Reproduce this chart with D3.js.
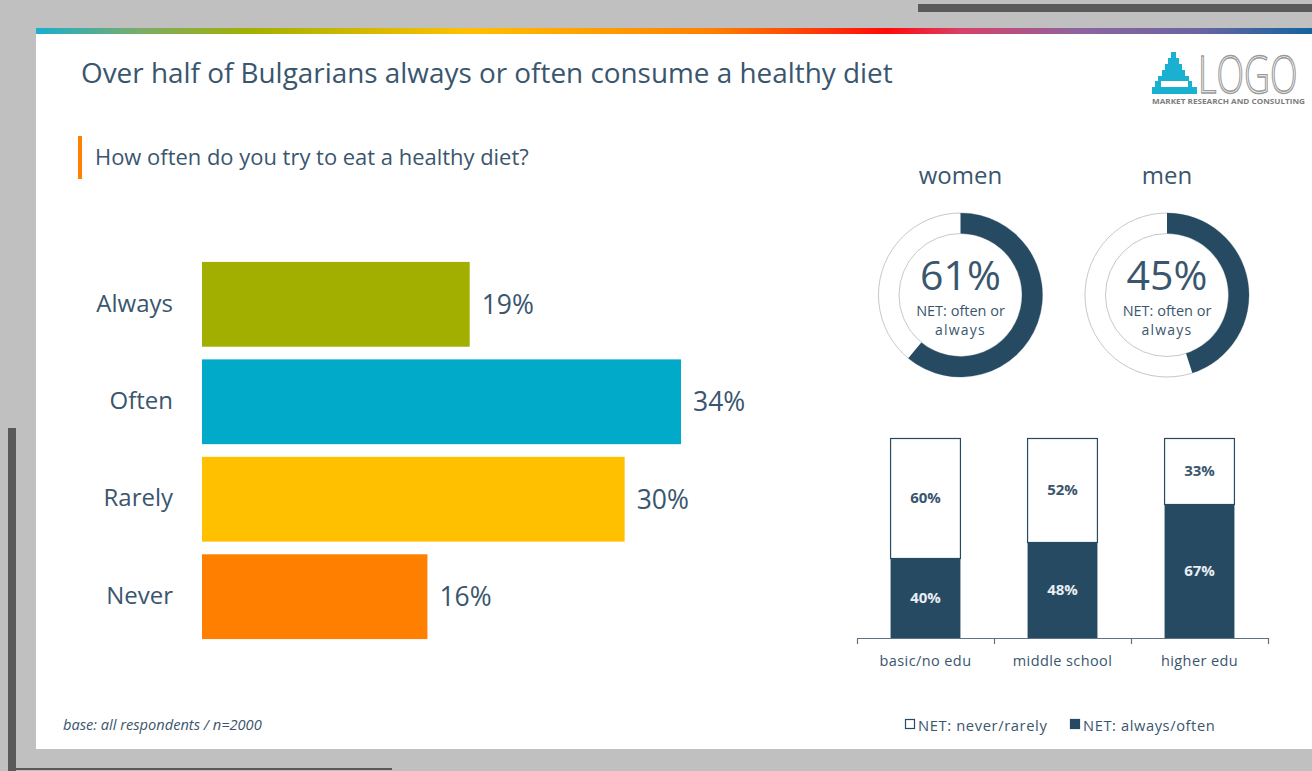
<!DOCTYPE html>
<html>
<head>
<meta charset="utf-8">
<script src="https://cdn.jsdelivr.net/npm/d3@7"></script>
<style>
  html, body { margin: 0; padding: 0; background: #c0c0c0; }
  svg { display: block; }
  text { font-family: "Open Sans", "Noto Sans", sans-serif; }
</style>
</head>
<body>
<svg id="chart" width="1312" height="771"></svg>
<script>
// Survey answers: how often respondents try to eat a healthy diet
const categories = ["Always", "Often", "Rarely", "Never"];
const shares = [19, 34, 30, 16];
const barColors = ["#a2ae00", "#00aac8", "#ffc000", "#ff8000"];

// NET always/often by gender
const genders = ["women", "men"];
const genderNet = [61, 45];

// NET split by education
const eduGroups = ["basic/no edu", "middle school", "higher edu"];
const eduNeverRarely = [60, 52, 33];
const eduAlwaysOften = [40, 48, 67];
const legendLabels = ["NET: never/rarely", "NET: always/often"];

const ink = "#3a566e";
const navy = "#274a63";

const svg = d3.select("#chart");

// shrink/stretch a text node's font size so it spans a given width
function fitWidth(sel, width) {
  const node = sel.node();
  const fs = parseFloat(sel.attr("font-size"));
  const w = node.getComputedTextLength();
  sel.attr("font-size", (fs * width / w).toFixed(2));
  return sel;
}

// ---------- slide frame ----------
svg.append("rect").attr("x", 918).attr("y", 4).attr("width", 394).attr("height", 8).attr("fill", "#5a5a5a");
svg.append("rect").attr("x", 8).attr("y", 428).attr("width", 8).attr("height", 343).attr("fill", "#5a5a5a");
svg.append("rect").attr("x", 16).attr("y", 768).attr("width", 376).attr("height", 2).attr("fill", "#5a5a5a");
svg.append("rect").attr("x", 36).attr("y", 28).attr("width", 1276).attr("height", 721).attr("fill", "#ffffff");

const grad = svg.append("defs").append("linearGradient").attr("id", "topband")
  .attr("x1", "0%").attr("x2", "100%").attr("y1", "0%").attr("y2", "0%");
[[0, "#1aaecf"], [0.08, "#7aac6a"], [0.168, "#a2b000"], [0.339, "#ffc000"], [0.529, "#ff8000"],
 [0.667, "#ff0a0a"], [0.726, "#d8406a"], [0.818, "#8c64a0"], [0.912, "#6a64a0"], [1, "#1064a0"]]
  .forEach(([o, c]) => grad.append("stop").attr("offset", o).attr("stop-color", c));
svg.append("rect").attr("x", 36).attr("y", 28).attr("width", 1276).attr("height", 6).attr("fill", "url(#topband)");

// ---------- titles ----------
fitWidth(svg.append("text").attr("x", 81).attr("y", 83).attr("font-size", 26).attr("fill", ink)
  .text("Over half of Bulgarians always or often consume a healthy diet"), 812);

svg.append("rect").attr("x", 78).attr("y", 136).attr("width", 4).attr("height", 43).attr("fill", "#ff8000");
fitWidth(svg.append("text").attr("x", 95).attr("y", 165).attr("font-size", 19).attr("fill", ink)
  .text("How often do you try to eat a healthy diet?"), 434);

// ---------- logo ----------
const logo = svg.append("g");
const cyan = "#1ab0d0";
[[1171, 52, 5], [1168, 58, 11], [1165, 64, 17], [1162, 70, 23], [1158, 76, 31], [1155, 81, 37], [1152, 87, 45]]
  .forEach(([x, y, w]) => logo.append("rect").attr("x", x).attr("y", y).attr("width", w).attr("height", 7).attr("fill", cyan));
logo.append("rect").attr("x", 1161).attr("y", 81).attr("width", 27).attr("height", 6).attr("fill", "#fff");
// tall, narrow wordmark: small font stretched vertically
logo.append("text").attr("transform", "translate(1198,93) scale(1,1.45)")
  .attr("font-size", 36).attr("font-weight", 300)
  .attr("fill", "none").attr("stroke", "#9a9a9a").attr("stroke-width", 1).text("LOGO");
logo.append("text").attr("x", 1152).attr("y", 104).attr("font-size", 7).attr("font-weight", 700)
  .attr("textLength", 153).attr("lengthAdjust", "spacingAndGlyphs").attr("fill", "#7d7d7d")
  .text("MARKET RESEARCH AND CONSULTING");

// ---------- horizontal bars ----------
const x = d3.scaleLinear().domain([0, 34]).range([202, 681]);
const y = d3.scaleBand().domain(categories).range([255.6, 645.4]).paddingInner(0.13).paddingOuter(0.065);

const bars = svg.append("g");
bars.selectAll("rect").data(categories).join("rect")
  .attr("x", x(0)).attr("y", d => y(d))
  .attr("width", (d, i) => x(shares[i]) - x(0)).attr("height", y.bandwidth())
  .attr("fill", (d, i) => barColors[i]);
bars.selectAll("text.val").data(categories).join("text").attr("class", "val")
  .attr("x", (d, i) => x(shares[i]) + 12).attr("y", d => y(d) + y.bandwidth() / 2)
  .attr("dy", "0.36em").attr("font-size", 26.5).attr("fill", ink)
  .text((d, i) => shares[i] + "%");

const yAxis = svg.append("g").attr("transform", "translate(173,0)")
  .call(d3.axisLeft(y).tickSize(0).tickPadding(0));
yAxis.select(".domain").remove();
yAxis.selectAll("text").attr("font-size", 24).attr("fill", ink)
  .attr("font-family", "\"Open Sans\", sans-serif").attr("dy", "0.3em");

// ---------- gender donuts ----------
const donutX = d3.scalePoint().domain(genders).range([960.5, 1167]);
const donutY = 295;
const rOuter = 82, rInner = 61.5;
const arc = d3.arc().innerRadius(rInner).outerRadius(rOuter);
const angle = d3.scaleLinear().domain([0, 100]).range([0, 2 * Math.PI]);

genders.forEach((g, i) => {
  const cx = donutX(g);
  const grp = svg.append("g").attr("transform", `translate(${cx},${donutY})`);
  grp.append("path").attr("d", arc({ startAngle: 0, endAngle: 2 * Math.PI }))
    .attr("fill", "#fff").attr("stroke", "#c2cad0").attr("stroke-width", 1);
  grp.append("path").attr("d", arc({ startAngle: 0, endAngle: angle(genderNet[i]) })).attr("fill", navy);
  grp.append("text").attr("text-anchor", "middle").attr("y", -5).attr("font-size", 41).attr("fill", ink)
    .text(genderNet[i] + "%");
  grp.append("text").attr("text-anchor", "middle").attr("y", 21).attr("font-size", 14.5).attr("fill", ink)
    .text("NET: often or");
  grp.append("text").attr("text-anchor", "middle").attr("y", 40).attr("font-size", 14)
    .attr("letter-spacing", 1.2).attr("fill", ink).text("always");
  svg.append("text").attr("x", cx).attr("y", 184).attr("text-anchor", "middle").attr("font-size", 24)
    .attr("fill", ink).text(g);
});

// ---------- education stacked columns ----------
const ex = d3.scaleBand().domain(eduGroups).range([857, 1268]).padding(0);
const ey = d3.scaleLinear().domain([0, 100]).range([638, 438]);
const colW = ex.bandwidth() * 0.51;

const cols = svg.append("g");
eduGroups.forEach((g, i) => {
  const cx = ex(g) + ex.bandwidth() / 2;
  const a = eduAlwaysOften[i], n = eduNeverRarely[i];
  cols.append("rect").attr("x", cx - colW / 2).attr("y", ey(a + n) + 0.5)
    .attr("width", colW).attr("height", ey(a) - ey(a + n))
    .attr("fill", "#fff").attr("stroke", navy).attr("stroke-width", 1.2);
  cols.append("rect").attr("x", cx - colW / 2).attr("y", ey(a))
    .attr("width", colW).attr("height", ey(0) - ey(a)).attr("fill", navy);
  cols.append("text").attr("x", cx).attr("y", (ey(a) + ey(a + n)) / 2).attr("dy", "0.35em")
    .attr("text-anchor", "middle").attr("font-size", 15).attr("font-weight", 700).attr("fill", ink)
    .text(n + "%");
  cols.append("text").attr("x", cx).attr("y", (ey(0) + ey(a)) / 2).attr("dy", "0.35em")
    .attr("text-anchor", "middle").attr("font-size", 15).attr("font-weight", 700).attr("fill", "#e8eef2")
    .text(a + "%");
});

// axis: boundary ticks plus centred group labels
const edge = d3.scaleLinear().domain([0, 3]).range([857, 1268]);
const tickAxis = svg.append("g").attr("transform", "translate(0,638)")
  .call(d3.axisBottom(edge).tickValues([0, 1, 2, 3]).tickSize(6).tickSizeOuter(0).tickFormat(""));
tickAxis.selectAll("path, line").attr("stroke", "#5d7385").attr("stroke-width", 1.2);

const labelAxis = svg.append("g").attr("transform", "translate(0,638)")
  .call(d3.axisBottom(ex).tickSize(0).tickPadding(18));
labelAxis.select(".domain").remove();
labelAxis.selectAll("text").attr("font-size", 14.5).attr("fill", ink).attr("letter-spacing", 0.4)
  .attr("font-family", "\"Open Sans\", sans-serif");

// legend
const legend = svg.append("g");
[[905, "#fff"], [1070, navy]].forEach(([lx, fill], i) => {
  legend.append("rect").attr("x", lx + 0.5).attr("y", 719.5).attr("width", 9).attr("height", 9)
    .attr("fill", fill).attr("stroke", navy).attr("stroke-width", 1.2);
  fitWidth(legend.append("text").attr("x", lx + 13).attr("y", 731).attr("font-size", 14)
    .attr("letter-spacing", 0.6).attr("fill", ink).text(legendLabels[i]), i === 0 ? 130 : 133);
});

// footnote
fitWidth(svg.append("text").attr("x", 63).attr("y", 730).attr("font-size", 13).attr("font-style", "italic")
  .attr("fill", ink).text("base: all respondents / n=2000"), 199);
</script>
</body>
</html>
